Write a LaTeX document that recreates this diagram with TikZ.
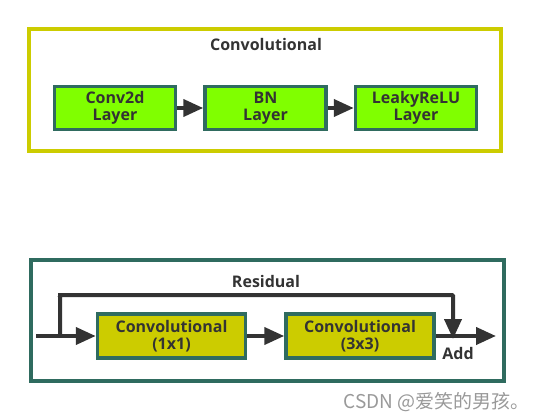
\documentclass[tikz,border=0pt]{standalone}
\usepackage{fontspec}
\setmainfont{Open Sans}
\newfontfamily\cjk{Noto Sans CJK SC}
\usetikzlibrary{arrows.meta}
\definecolor{olive}{HTML}{CCCC00}
\definecolor{teal2}{HTML}{2F6B5F}
\definecolor{lime2}{HTML}{80FF00}
\definecolor{txt}{HTML}{333333}
\definecolor{arr}{HTML}{333333}
\tikzset{
  frameY/.style={draw=olive,line width=4pt},
  frameT/.style={draw=teal2,line width=4pt},
  layerbox/.style={draw=teal2,line width=3.5pt,fill=lime2,minimum width=121pt,minimum height=43pt,align=center,inner sep=0pt,text=txt,font=\bfseries\fontsize{16}{17}\selectfont},
  convbox/.style={draw=teal2,line width=3.5pt,fill=olive,minimum width=148pt,minimum height=44pt,align=center,inner sep=0pt,text=txt,font=\bfseries\fontsize{16}{17}\selectfont},
  flow/.style={draw=arr,line width=4pt,-{Triangle[length=20pt,width=17pt]}},
  lbl/.style={text=txt,font=\bfseries\fontsize{16}{17}\selectfont,inner sep=0pt}
}
\begin{document}
\begin{tikzpicture}[x=1pt,y=-1pt]
\useasboundingbox (0,0) rectangle (537,419);
% top frame
\draw[frameY] (29,29) rectangle (501,151);
\node[lbl] (t1) at (266,45) {Convolutional};
\node[layerbox] (c2d) at (115,108) {Conv2d\\Layer};
\node[layerbox] (bn) at (265.5,108) {BN\\Layer};
\node[layerbox] (lrelu) at (416,108) {LeakyReLU\\Layer};
\draw[flow] (c2d) -- (bn);
\draw[flow] (bn) -- (lrelu);
% bottom frame
\draw[frameT] (31,260) rectangle (504,381);
\node[lbl] (t2) at (266,281) {Residual};
\node[convbox] (cv1) at (171.5,336) {Convolutional\\(1x1)};
\node[convbox] (cv2) at (360,336) {Convolutional\\(3x3)};
\coordinate (in) at (36,336);
\coordinate (br) at (60,336);
\coordinate (addpt) at (453,336);
\coordinate (out) at (496,336);
\draw[flow] (in) -- (cv1);
\draw[flow] (cv1) -- (cv2);
\draw[flow] (cv2.east) -- (out);
\draw[flow,rounded corners=1pt] (br) |- (57,295) -| ([yshift=-3pt]addpt);
\node[lbl,anchor=north] (add) at (458,347) {Add};
% watermark
\node[text=gray!80,font=\cjk\fontsize{19}{21}\selectfont,anchor=east,inner sep=0pt] (wm) at (530,402) {CSDN @爱笑的男孩。};
\end{tikzpicture}
\end{document}
